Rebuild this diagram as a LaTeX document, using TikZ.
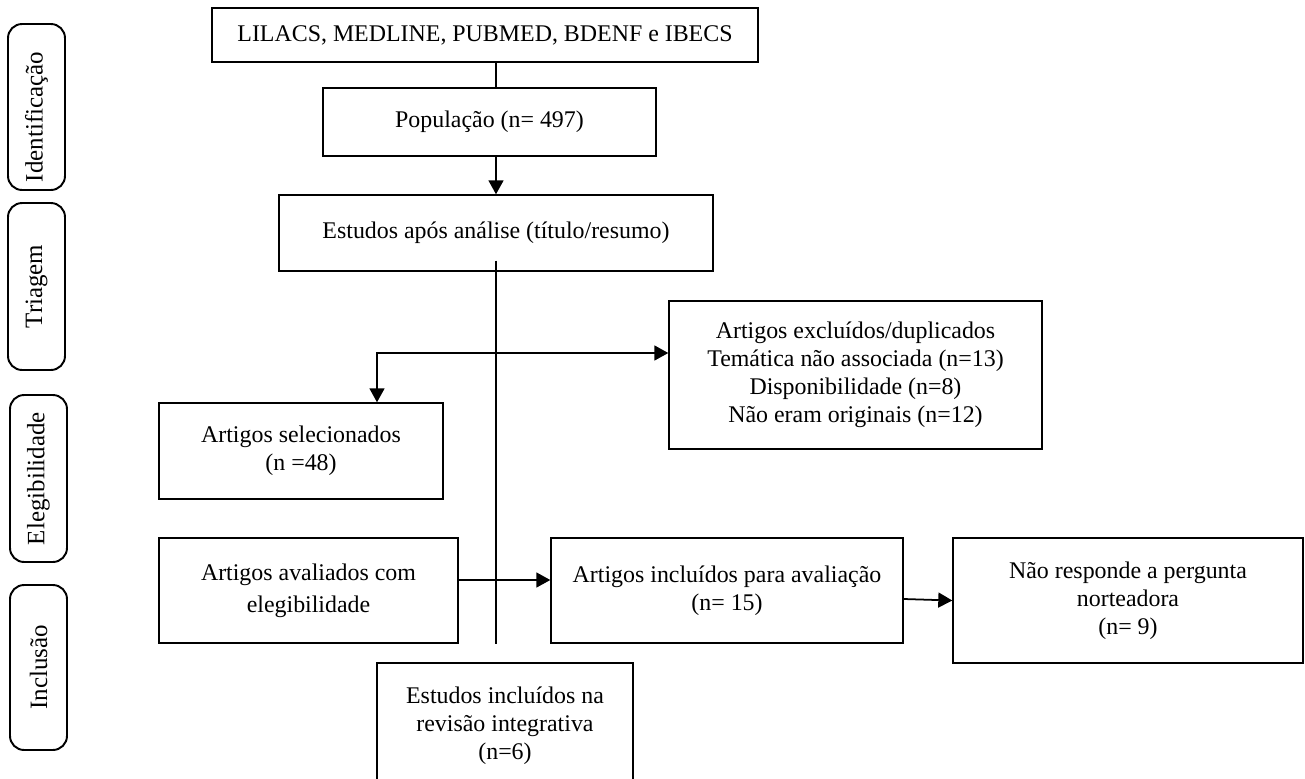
\documentclass[tikz,border=0pt]{standalone}
\usepackage{fontspec}
\setmainfont{Liberation Serif}
\usetikzlibrary{arrows.meta}

\tikzset{
    caixa/.style={draw, line width=0.85pt, align=center, inner sep=2pt},
    fase/.style={draw, line width=1.1pt, rounded corners=8pt, rotate=90,
        minimum height=1.14cm, font=\fontsize{14.2}{16}\selectfont},
    linha/.style={line width=1pt},
    >={Triangle[length=0.28cm, width=0.3cm]}
}

\begin{document}
\begin{tikzpicture}[x=0.02cm, y=-0.02cm, font=\fontsize{13.6}{15.9}\selectfont]
    \clip (0,0) rectangle (1305,778);

    % Fases
    \node[fase, minimum width=3.32cm] (ident)    at (36.5,107)   {Identificação\hspace*{0.4cm}};
    \node[fase, minimum width=3.34cm] (triagem)  at (36.5,286.5) {Triagem};
    \node[fase, minimum width=3.34cm] (eleg)     at (38.5,478.5) {Elegibilidade};
    \node[fase, minimum width=3.30cm] (inclusao) at (38.5,667.5) {Inclusão};

    % Caixas
    \node[caixa, minimum width=10.92cm, minimum height=1.08cm] (lilacs) at (485,35)
        {LILACS, MEDLINE, PUBMED, BDENF e IBECS};
    \node[caixa, minimum width=6.66cm, minimum height=1.36cm] (pop) at (489.5,122)
        {População (n= 497)};
    \node[caixa, minimum width=8.68cm, minimum height=1.52cm] (estudos) at (496,233)
        {Estudos após análise (título/resumo)};
    \node[caixa, minimum width=7.46cm, minimum height=2.96cm] (excluidos) at (855.5,375)
        {Artigos excluídos/duplicados\\ Temática não associada (n=13)\\
         Disponibilidade (n=8)\\ Não eram originais (n=12)};
    \node[caixa, minimum width=5.68cm, minimum height=1.92cm] (selecionados) at (301,451)
        {Artigos selecionados\\ (n =48)};
    \node[caixa, minimum width=5.98cm, minimum height=2.10cm,
        font=\fontsize{13.6}{18}\selectfont] (avaliados) at (308.5,590.5)
        {Artigos avaliados com\\ elegibilidade};
    \node[caixa, minimum width=7.04cm, minimum height=2.10cm] (incluidos) at (727,590.5)
        {Artigos incluídos para avaliação\\ (n= 15)};
    \node[caixa, minimum width=7.00cm, minimum height=2.50cm] (naoresp) at (1128,600.5)
        {Não responde a pergunta\\ norteadora\\ (n= 9)};
    \node[caixa, minimum width=5.12cm, minimum height=2.52cm] (revisao) at (505,726)
        {Estudos incluídos na\\ revisão integrativa\\ (n=6)};

    % Setas
    \coordinate (ramo) at (377,353);
    \draw[linha] (estudos.north |- lilacs.south) -- (estudos.north |- pop.north);
    \draw[linha, ->] (estudos.north |- pop.south) -- (estudos.north);
    \draw[linha] ([yshift=0.22cm]estudos.south) -- (estudos.south |- avaliados.south);
    \draw[linha, <->] (ramo |- selecionados.north) |- (ramo -| excluidos.west);
    \draw[linha, ->] ([yshift=0.21cm]avaliados.east) -- ([yshift=0.21cm]incluidos.west);
    \draw[linha, ->] ([yshift=-0.17cm]incluidos.east) -- (naoresp.west);
\end{tikzpicture}
\end{document}
